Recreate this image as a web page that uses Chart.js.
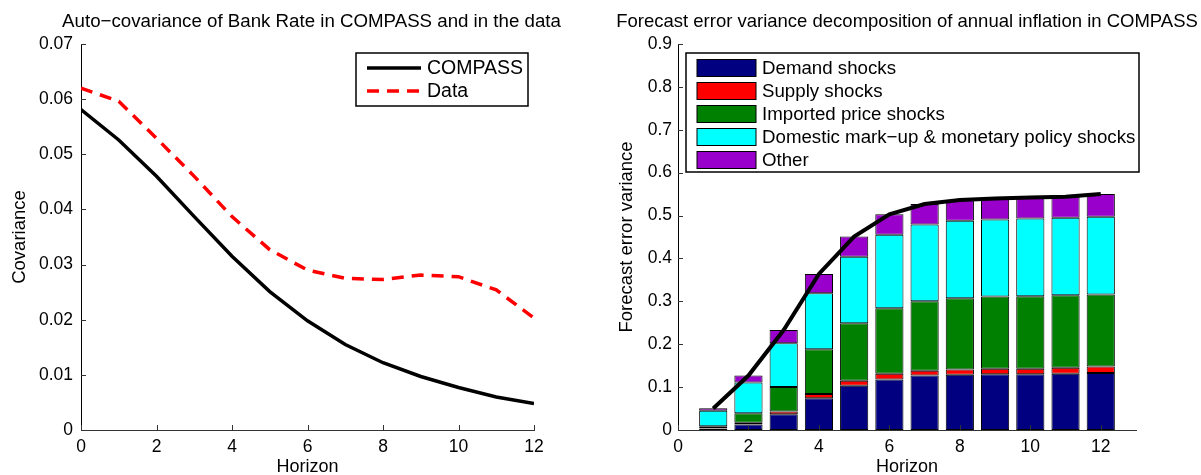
<!DOCTYPE html>
<html>
<head>
<meta charset="utf-8">
<script src="https://cdn.jsdelivr.net/npm/chart.js@4.4.0/dist/chart.umd.min.js"></script>
<style>
    html, body { margin: 0; padding: 0; background: #fff; overflow: hidden; }
    #wrap { position: relative; width: 1201px; height: 475px; }
    #c1 { position: absolute; left: 0; top: 0; width: 600px; height: 475px; }
    #c2 { position: absolute; left: 600px; top: 0; width: 601px; height: 475px; }
</style>
</head>
<body>
<div id="wrap">
    <canvas id="c1" width="600" height="475"></canvas>
    <canvas id="c2" width="601" height="475"></canvas>
</div>
<script>
// left panel : auto-covariance of Bank Rate
const covHorizon = [0, 1, 2, 3, 4, 5, 6, 7, 8, 9, 10, 11, 12];
const covCompass = [0.0581, 0.0526, 0.0460, 0.0387, 0.0315, 0.0251, 0.0198, 0.0155, 0.0122, 0.0097, 0.0077, 0.0060, 0.0048];
const covData = [0.0620, 0.0596, 0.0529, 0.0460, 0.0387, 0.0327, 0.0290, 0.0275, 0.0273, 0.0281, 0.0278, 0.0254, 0.0203];

// right panel : forecast error variance decomposition
const fevdHorizon = [1, 2, 3, 4, 5, 6, 7, 8, 9, 10, 11, 12];
const demandShocks = [0.003, 0.013, 0.037, 0.074, 0.103, 0.118, 0.127, 0.129, 0.130, 0.130, 0.131, 0.133];
const supplyShocks = [0.001, 0.004, 0.006, 0.010, 0.012, 0.013, 0.011, 0.012, 0.013, 0.013, 0.014, 0.015];
const importedShocks = [0.005, 0.022, 0.057, 0.104, 0.134, 0.153, 0.162, 0.166, 0.168, 0.169, 0.169, 0.168];
const domesticShocks = [0.036, 0.072, 0.102, 0.131, 0.155, 0.171, 0.179, 0.181, 0.180, 0.181, 0.181, 0.181];
const otherShocks = [0.006, 0.016, 0.031, 0.045, 0.047, 0.048, 0.048, 0.048, 0.049, 0.049, 0.049, 0.053];
const totalVariance = [0.050, 0.127, 0.233, 0.364, 0.451, 0.503, 0.527, 0.536, 0.540, 0.542, 0.544, 0.550];

const FONT = '"Liberation Sans", Arial, sans-serif';

function pts(xs, ys) {
    return xs.map(function (x, i) { return {x: x, y: ys[i]}; });
}

// title centred over the plot area
const topTitle = {
    id: 'topTitle',
    afterDraw: function (chart, args, opts) {
        const ctx = chart.ctx, a = chart.chartArea;
        ctx.save();
        ctx.fillStyle = '#000';
        ctx.font = opts.size + 'px ' + FONT;
        ctx.textAlign = 'center';
        ctx.textBaseline = 'middle';
        ctx.fillText(opts.text, (a.left + a.right) / 2 + (opts.dx || 0), opts.y);
        ctx.restore();
    }
};

// matlab style ticks pointing into the axes
const inTicks = {
    id: 'inTicks',
    afterDraw: function (chart) {
        const ctx = chart.ctx, a = chart.chartArea;
        const xs = chart.scales.x, ys = chart.scales.y;
        ctx.save();
        ctx.strokeStyle = '#333';
        ctx.lineWidth = 1;
        ctx.beginPath();
        xs.ticks.forEach(function (t) {
            const p = Math.round(xs.getPixelForValue(t.value)) + 0.5;
            ctx.moveTo(p, a.bottom);
            ctx.lineTo(p, a.bottom - 5);
        });
        ys.ticks.forEach(function (t) {
            const p = Math.round(ys.getPixelForValue(t.value)) + 0.5;
            ctx.moveTo(a.left, p);
            ctx.lineTo(a.left + 5, p);
        });
        ctx.stroke();
        ctx.restore();
    }
};

// boxed legend drawn inside the plot
const boxLegend = {
    id: 'boxLegend',
    afterDraw: function (chart, args, o) {
        const ctx = chart.ctx;
        ctx.save();
        ctx.fillStyle = '#fff';
        ctx.fillRect(o.left, o.top, o.right - o.left, o.bottom - o.top);
        ctx.strokeStyle = '#000';
        ctx.lineWidth = 1.5;
        ctx.strokeRect(o.left, o.top, o.right - o.left, o.bottom - o.top);
        ctx.font = o.size + 'px ' + FONT;
        ctx.textBaseline = 'middle';
        ctx.textAlign = 'left';
        o.items.forEach(function (idx, i) {
            const ds = chart.data.datasets[idx];
            const y = o.rows[i];
            if (o.kind === 'line') {
                ctx.strokeStyle = ds.borderColor;
                ctx.lineWidth = ds.borderWidth;
                ctx.setLineDash(ds.borderDash || []);
                ctx.beginPath();
                ctx.moveTo(o.s0, y);
                ctx.lineTo(o.s1, y);
                ctx.stroke();
                ctx.setLineDash([]);
            } else {
                ctx.fillStyle = ds.backgroundColor;
                ctx.fillRect(o.s0, y - 8.5, o.s1 - o.s0, 17);
                ctx.strokeStyle = '#000';
                ctx.lineWidth = 1;
                ctx.strokeRect(o.s0, y - 8.5, o.s1 - o.s0, 17);
            }
            ctx.fillStyle = '#000';
            ctx.fillText(ds.label, o.tx, y + 1);
        });
        ctx.restore();
    }
};

function axisX(max) {
    return {
        type: 'linear', min: 0, max: max, offset: false,
        grid: {display: false, drawTicks: false},
        border: {display: true, color: '#333', width: 1},
        ticks: {stepSize: 2, includeBounds: false, padding: 7, color: '#000', font: {family: FONT, size: 17.5}},
        title: {display: true, text: 'Horizon', color: '#000', font: {family: FONT, size: 18, lineHeight: 1}, padding: {top: 0, bottom: -1}},
        afterFit: function (s) { s.height = 45; }
    };
}

Chart.defaults.animation = false;

new Chart(document.getElementById('c1'), {
    type: 'line',
    data: {
        datasets: [{
            label: 'COMPASS',
            data: pts(covHorizon, covCompass),
            borderColor: '#000', borderWidth: 3.5, pointRadius: 0, tension: 0
        }, {
            label: 'Data',
            data: pts(covHorizon, covData),
            borderColor: '#ff0000', borderWidth: 3.5, borderDash: [12, 8], pointRadius: 0, tension: 0
        }]
    },
    options: {
        responsive: false,
        layout: {padding: {top: 44, right: 66, left: 0, bottom: 0}},
        plugins: {
            legend: {display: false},
            tooltip: {enabled: false},
            topTitle: {text: 'Auto\u2212covariance of Bank Rate in COMPASS and in the data', y: 22, size: 18.7, dx: 4},
            boxLegend: {kind: 'line', left: 356, right: 528, top: 53, bottom: 106, s0: 367, s1: 421, tx: 427, size: 19.5, rows: [68, 91], items: [0, 1]}
        },
        scales: {
            x: axisX(12),
            y: {
                min: 0, max: 0.07,
                grid: {display: false, drawTicks: false},
                border: {display: true, color: '#000', width: 1},
                ticks: {stepSize: 0.01, padding: 8, color: '#000', font: {family: FONT, size: 17.5},
                    callback: function (v) { return v === 0 ? '0' : v.toFixed(2); }},
                title: {display: true, text: 'Covariance', color: '#000', font: {family: FONT, size: 18.5, lineHeight: 1.2}, padding: {top: 9, bottom: 0}},
                afterFit: function (s) { s.width = 81; }
            }
        }
    },
    plugins: [topTitle, inTicks, boxLegend]
});

function barSet(label, values, colour) {
    return {
        type: 'bar', label: label, data: pts(fevdHorizon, values),
        backgroundColor: colour, borderColor: '#000', borderWidth: 1, borderSkipped: false,
        barPercentage: 0.8, categoryPercentage: 1.0, stack: 'shocks', order: 1
    };
}

new Chart(document.getElementById('c2'), {
    type: 'bar',
    data: {
        datasets: [
            barSet('Demand shocks', demandShocks, '#000080'),
            barSet('Supply shocks', supplyShocks, '#ff0000'),
            barSet('Imported price shocks', importedShocks, '#008000'),
            barSet('Domestic mark\u2212up & monetary policy shocks', domesticShocks, '#00ffff'),
            barSet('Other', otherShocks, '#9900cc'),
            {
                type: 'line', label: 'Total', data: pts(fevdHorizon, totalVariance),
                borderColor: '#000', borderWidth: 4, pointRadius: 0, tension: 0,
                stack: 'total', order: 0
            }
        ]
    },
    options: {
        responsive: false,
        layout: {padding: {top: 44, right: 65, left: 0, bottom: 0}},
        plugins: {
            legend: {display: false},
            tooltip: {enabled: false},
            topTitle: {text: 'Forecast error variance decomposition of annual inflation in COMPASS', y: 22, size: 18.5},
            boxLegend: {kind: 'box', left: 86, right: 539, top: 53, bottom: 172, s0: 97, s1: 156, tx: 162, size: 18.7, rows: [68, 91, 114, 137, 160], items: [0, 1, 2, 3, 4]}
        },
        scales: {
            x: Object.assign(axisX(13), {stacked: true}),
            y: {
                min: 0, max: 0.9, stacked: true,
                grid: {display: false, drawTicks: false},
                border: {display: true, color: '#000', width: 1},
                ticks: {stepSize: 0.1, padding: 6, color: '#000', font: {family: FONT, size: 17.5},
                    callback: function (v) { return v === 0 ? '0' : v.toFixed(1); }},
                title: {display: true, text: 'Forecast error variance', color: '#000', font: {family: FONT, size: 18.5, lineHeight: 1.2}, padding: {top: 16, bottom: 0}},
                afterFit: function (s) { s.width = 78; }
            }
        }
    },
    plugins: [topTitle, inTicks, boxLegend]
});
</script>
</body>
</html>
